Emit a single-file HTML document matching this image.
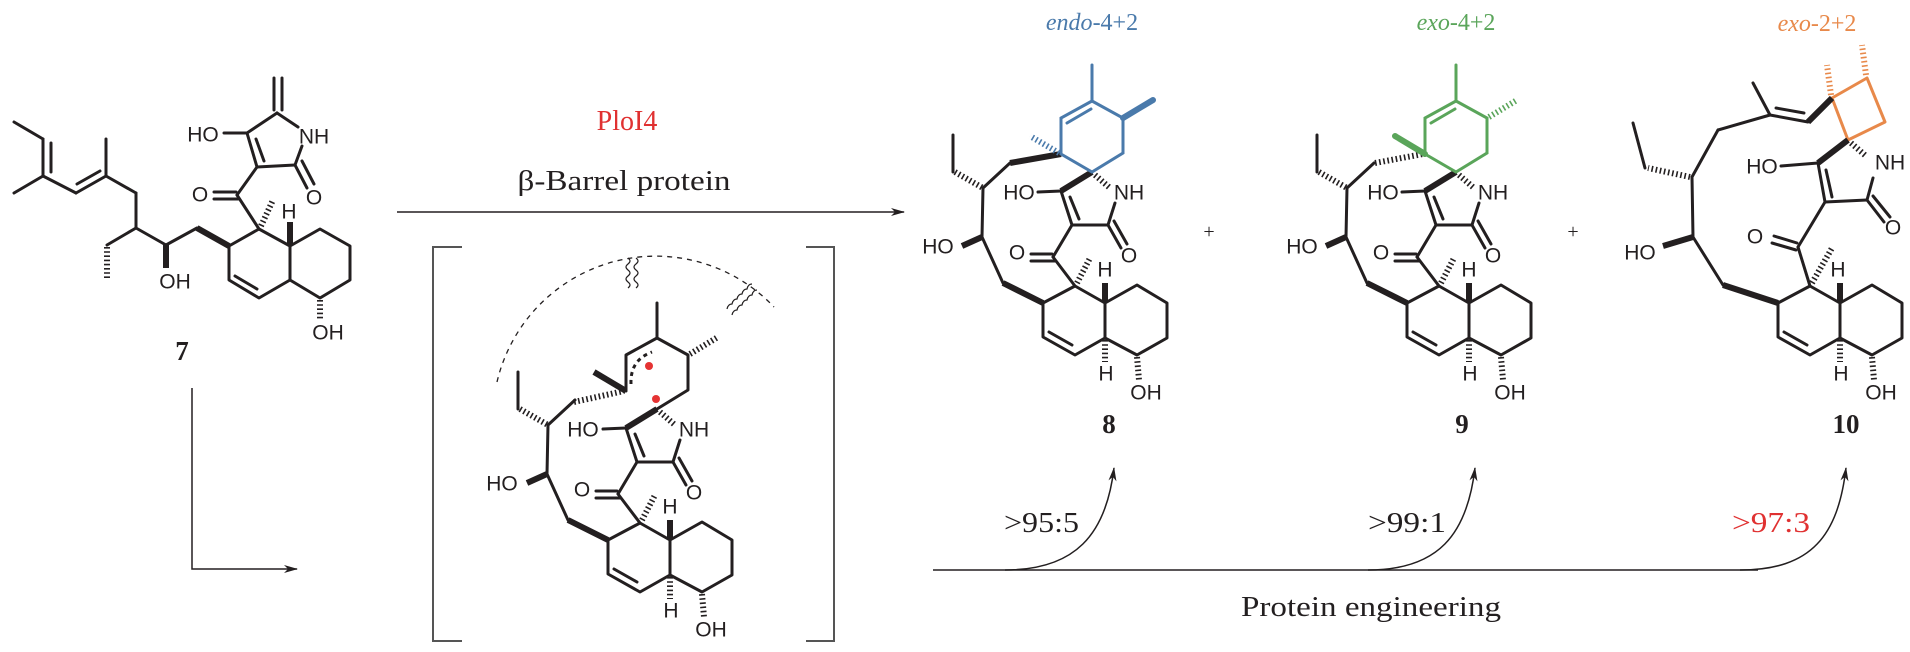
<!DOCTYPE html>
<html><head><meta charset="utf-8"><style>
html,body{margin:0;padding:0;background:#fff;}
svg{display:block;}
.b{stroke:#231f20;stroke-width:3;fill:none;stroke-linecap:round;stroke-linejoin:round;}
.w{stroke:#231f20;stroke-width:6;fill:none;}
.h{stroke:#231f20;stroke-width:6;fill:none;stroke-dasharray:1.6 2.6;}
.t{font-family:"Liberation Sans",sans-serif;font-size:21px;fill:#231f20;dominant-baseline:central;text-anchor:middle;}
.s{font-family:"Liberation Serif",serif;fill:#231f20;}
.ar{stroke:#231f20;stroke-width:1.5;fill:none;}
</style></head><body>
<svg width="1910" height="652" viewBox="0 0 1910 652" xmlns="http://www.w3.org/2000/svg">
<defs>
<marker id="ah" markerWidth="14" markerHeight="10" refX="13" refY="5" orient="auto" markerUnits="userSpaceOnUse"><path d="M0,1 L14,5 L0,9 L4,5 Z" fill="#231f20"/></marker>
<g id="base">
<line class="b" x1="953" y1="135" x2="953" y2="172"/>
<line class="h" x1="955" y1="172" x2="983" y2="188"/>
<line class="b" x1="983" y1="188" x2="1010" y2="163"/>
<line class="b" x1="983" y1="188" x2="982" y2="237"/>
<line class="w" x1="982" y1="237" x2="962" y2="246"/>
<line class="b" x1="982" y1="237" x2="1003" y2="283"/>
<line class="w" x1="1003" y1="283" x2="1043" y2="303"/>
<polyline class="b" points="1043,303 1075,286 1105,303 1105,338 1075,355 1043,337 1043,303"/>
<line class="b" x1="1049" y1="332" x2="1072" y2="345"/>
<polyline class="b" points="1105,303 1137,285 1167,303 1167,338 1137,355 1105,338"/>
<line class="w" x1="1105" y1="303" x2="1105" y2="283"/>
<line class="h" x1="1105" y1="340" x2="1105" y2="362"/>
<line class="h" x1="1137" y1="357" x2="1139" y2="380"/>
<line class="h" x1="1077" y1="283" x2="1090" y2="258"/>
<line class="b" x1="1075" y1="286" x2="1053" y2="257"/>
<line class="b" x1="1031" y1="254" x2="1052" y2="254"/>
<line class="b" x1="1031" y1="261" x2="1055" y2="261"/>
<line class="b" x1="1053" y1="257" x2="1072" y2="225"/>
<line class="b" x1="1072" y1="225" x2="1061" y2="191"/>
<line class="b" x1="1079" y1="219" x2="1070" y2="197"/>
<line class="b" x1="1072" y1="225" x2="1108" y2="225"/>
<line class="b" x1="1108" y1="225" x2="1115" y2="203"/>
<line class="b" x1="1108" y1="225" x2="1121" y2="248"/>
<line class="b" x1="1114" y1="221" x2="1127" y2="244"/>
<line class="b" x1="1038" y1="192" x2="1061" y2="191"/>
<line class="w" x1="1092" y1="172" x2="1061" y2="191"/>
<line class="h" x1="1095" y1="175" x2="1110" y2="188"/>
</g>
</defs>

<!-- Compound 7 -->
<g>
<line class="b" x1="14" y1="122" x2="43" y2="139"/>
<line class="b" x1="43" y1="139" x2="43" y2="176"/>
<line class="b" x1="51" y1="143" x2="51" y2="172"/>
<line class="b" x1="14" y1="193" x2="43" y2="176"/>
<line class="b" x1="43" y1="176" x2="76" y2="193"/>
<line class="b" x1="76" y1="193" x2="106" y2="176"/>
<line class="b" x1="77" y1="184" x2="100" y2="171"/>
<line class="b" x1="106" y1="176" x2="106" y2="139"/>
<line class="b" x1="106" y1="176" x2="136" y2="193"/>
<line class="b" x1="136" y1="193" x2="136" y2="228"/>
<line class="b" x1="136" y1="228" x2="107" y2="245"/>
<line class="h" x1="107" y1="247" x2="107" y2="280"/>
<line class="b" x1="136" y1="228" x2="166" y2="245"/>
<line class="w" x1="166" y1="245" x2="166" y2="268"/>
<line class="b" x1="166" y1="245" x2="197" y2="228"/>
<line class="w" x1="197" y1="228" x2="229" y2="246"/>
<polyline class="b" points="229,246 259,229 290,246 290,280 259,298 229,280 229,246"/>
<line class="b" x1="235" y1="276" x2="257" y2="289"/>
<polyline class="b" points="290,246 320,229 350,246 350,280 320,298 290,280"/>
<line class="w" x1="290" y1="246" x2="290" y2="222"/>
<line class="h" x1="261" y1="226" x2="273" y2="200"/>
<line class="h" x1="320" y1="300" x2="320" y2="321"/>
<line class="b" x1="259" y1="229" x2="237" y2="195"/>
<line class="b" x1="214" y1="192" x2="236" y2="192"/>
<line class="b" x1="214" y1="199" x2="238" y2="199"/>
<line class="b" x1="237" y1="195" x2="257" y2="167"/>
<line class="b" x1="257" y1="167" x2="247" y2="133"/>
<line class="b" x1="264" y1="161" x2="256" y2="139"/>
<line class="b" x1="224" y1="133" x2="247" y2="133"/>
<line class="b" x1="247" y1="133" x2="277" y2="113"/>
<line class="b" x1="277" y1="113" x2="298" y2="127"/>
<line class="b" x1="274" y1="110" x2="274" y2="78"/>
<line class="b" x1="282" y1="110" x2="282" y2="78"/>
<line class="b" x1="257" y1="167" x2="295" y2="165"/>
<line class="b" x1="295" y1="165" x2="302" y2="146"/>
<line class="b" x1="295" y1="165" x2="307" y2="188"/>
<line class="b" x1="302" y1="161" x2="314" y2="184"/>
<text class="t" x="203" y="135">HO</text>
<text class="t" x="314" y="137">NH</text>
<text class="t" x="200" y="195">O</text>
<text class="t" x="314" y="198">O</text>
<text class="t" x="289" y="212">H</text>
<text class="t" x="175" y="282">OH</text>
<text class="t" x="328" y="333">OH</text>
<text class="s" x="182" y="360" font-size="27" font-weight="bold" text-anchor="middle">7</text>
</g>

<!-- main arrow -->
<line class="ar" x1="397" y1="212" x2="904" y2="212" marker-end="url(#ah)"/>
<text class="s" x="627" y="130" font-size="28" fill="#e03131" style="fill:#e03131" text-anchor="middle">PloI4</text>
<text class="s" x="624" y="190" font-size="28" text-anchor="middle" textLength="213" lengthAdjust="spacingAndGlyphs">β-Barrel protein</text>

<!-- L arrow -->
<polyline class="ar" points="192,388 192,569 297,569" marker-end="url(#ah)"/>

<!-- brackets -->
<polyline points="462,247 433,247 433,641 462,641" fill="none" stroke="#555" stroke-width="2"/>
<polyline points="806,247 834,247 834,641 806,641" fill="none" stroke="#555" stroke-width="2"/>

<!-- Product 8 -->
<use href="#base"/>
<line class="w" x1="1010" y1="163" x2="1061" y2="154"/>
<g stroke="#4a7aab" fill="none" stroke-width="3" stroke-linecap="round">
<polyline points="1092,101 1123,118 1123,153 1092,172 1061,154 1061,118 1092,101"/>
<line x1="1067" y1="123" x2="1091" y2="109"/>
<line x1="1092" y1="101" x2="1092" y2="65"/>
<line x1="1123" y1="118" x2="1153" y2="100" stroke-width="6"/>
<line x1="1059" y1="153" x2="1030" y2="136" stroke-width="6" stroke-dasharray="1.6 2.6" stroke-linecap="butt"/>
</g>
<text class="t" x="938" y="247">HO</text>
<text class="t" x="1019" y="193">HO</text>
<text class="t" x="1017" y="253">O</text>
<text class="t" x="1129" y="256">O</text>
<text class="t" x="1129" y="193">NH</text>
<text class="t" x="1105" y="270">H</text>
<text class="t" x="1106" y="374">H</text>
<text class="t" x="1146" y="393">OH</text>
<text class="s" x="1109" y="433" font-size="27" font-weight="bold" text-anchor="middle">8</text>
<text class="s" x="1092" y="30" font-size="24" fill="#4a7aab" style="fill:#4a7aab" text-anchor="middle"><tspan font-style="italic">endo</tspan>-4+2</text>
<text class="s" x="1209" y="238" font-size="20" text-anchor="middle">+</text>

<!-- Product 9 -->
<use href="#base" transform="translate(364,0)"/>
<line class="h" x1="1375" y1="163" x2="1423" y2="154"/>
<g stroke="#5aa55a" fill="none" stroke-width="3" stroke-linecap="round">
<polyline points="1456,101 1487,118 1487,153 1456,172 1425,154 1425,118 1456,101"/>
<line x1="1431" y1="123" x2="1455" y2="109"/>
<line x1="1456" y1="101" x2="1456" y2="65"/>
<line x1="1489" y1="117" x2="1517" y2="100" stroke-width="6" stroke-dasharray="1.6 2.6" stroke-linecap="butt"/>
<line x1="1425" y1="154" x2="1395" y2="136" stroke-width="6"/>
</g>
<text class="t" x="1302" y="247">HO</text>
<text class="t" x="1383" y="193">HO</text>
<text class="t" x="1381" y="253">O</text>
<text class="t" x="1493" y="256">O</text>
<text class="t" x="1493" y="193">NH</text>
<text class="t" x="1469" y="270">H</text>
<text class="t" x="1470" y="374">H</text>
<text class="t" x="1510" y="393">OH</text>
<text class="s" x="1462" y="433" font-size="27" font-weight="bold" text-anchor="middle">9</text>
<text class="s" x="1456" y="30" font-size="24" fill="#5aa55a" style="fill:#5aa55a" text-anchor="middle"><tspan font-style="italic">exo</tspan>-4+2</text>
<text class="s" x="1573" y="238" font-size="20" text-anchor="middle">+</text>

<!-- Product 10 -->
<g>
<g stroke="#e8894a" fill="none" stroke-width="3" stroke-linejoin="round">
<polygon points="1832,98 1867,78 1885,122 1848,140"/>
<line x1="1831" y1="95" x2="1827" y2="65" stroke-width="6" stroke-dasharray="1.6 2.6"/>
<line x1="1866" y1="75" x2="1862" y2="45" stroke-width="6" stroke-dasharray="1.6 2.6"/>
</g>
<line class="w" x1="1808" y1="122" x2="1832" y2="98"/>
<line class="b" x1="1808" y1="122" x2="1770" y2="115"/>
<line class="b" x1="1804" y1="113" x2="1776" y2="108"/>
<line class="b" x1="1770" y1="115" x2="1753" y2="83"/>
<line class="b" x1="1770" y1="115" x2="1718" y2="130"/>
<line class="b" x1="1718" y1="130" x2="1692" y2="177"/>
<line class="h" x1="1690" y1="177" x2="1648" y2="168"/>
<line class="b" x1="1645" y1="168" x2="1633" y2="123"/>
<line class="b" x1="1692" y1="177" x2="1693" y2="237"/>
<line class="w" x1="1693" y1="237" x2="1663" y2="246"/>
<line class="b" x1="1693" y1="237" x2="1723" y2="285"/>
<line class="w" x1="1723" y1="285" x2="1778" y2="303"/>
<polyline class="b" points="1778,303 1810,286 1840,303 1840,338 1810,355 1778,337 1778,303"/>
<line class="b" x1="1784" y1="332" x2="1807" y2="345"/>
<polyline class="b" points="1840,303 1872,285 1902,303 1902,338 1872,355 1840,338"/>
<line class="w" x1="1840" y1="303" x2="1840" y2="283"/>
<line class="h" x1="1840" y1="340" x2="1840" y2="362"/>
<line class="h" x1="1872" y1="357" x2="1874" y2="380"/>
<line class="h" x1="1812" y1="283" x2="1832" y2="248"/>
<line class="b" x1="1810" y1="286" x2="1798" y2="247"/>
<line class="b" x1="1774" y1="236" x2="1797" y2="243"/>
<line class="b" x1="1772" y1="243" x2="1796" y2="250"/>
<line class="b" x1="1798" y1="247" x2="1825" y2="202"/>
<line class="b" x1="1825" y1="202" x2="1818" y2="163"/>
<line class="b" x1="1832" y1="197" x2="1826" y2="170"/>
<line class="b" x1="1825" y1="202" x2="1867" y2="200"/>
<line class="b" x1="1867" y1="200" x2="1873" y2="178"/>
<line class="b" x1="1867" y1="200" x2="1884" y2="222"/>
<line class="b" x1="1873" y1="196" x2="1890" y2="217"/>
<line class="w" x1="1848" y1="140" x2="1818" y2="163"/>
<line class="h" x1="1851" y1="143" x2="1866" y2="156"/>
<line class="b" x1="1781" y1="166" x2="1818" y2="163"/>
<text class="t" x="1762" y="167">HO</text>
<text class="t" x="1890" y="163">NH</text>
<text class="t" x="1893" y="228">O</text>
<text class="t" x="1755" y="237">O</text>
<text class="t" x="1640" y="253">HO</text>
<text class="t" x="1838" y="270">H</text>
<text class="t" x="1841" y="374">H</text>
<text class="t" x="1881" y="393">OH</text>
<text class="s" x="1846" y="433" font-size="27" font-weight="bold" text-anchor="middle">10</text>
<text class="s" x="1817" y="31" font-size="24" fill="#e8894a" style="fill:#e8894a" text-anchor="middle"><tspan font-style="italic">exo</tspan>-2+2</text>
</g>

<!-- Transition state -->
<use href="#base" transform="translate(-435,237)"/>
<g>
<polyline class="b" points="626,391 626,355 657,338 688,355 688,390 657,409"/>
<line class="b" x1="657" y1="338" x2="657" y2="303"/>
<line class="h" x1="690" y1="354" x2="718" y2="337"/>
<line class="w" x1="626" y1="391" x2="594" y2="372"/>
<line class="h" x1="574" y1="402" x2="624" y2="391"/>
<path d="M631,384 Q630,360 652,352" fill="none" stroke="#231f20" stroke-width="3" stroke-dasharray="4 4"/>
<circle cx="649" cy="366" r="4" fill="#e53333"/>
<circle cx="656" cy="399" r="4" fill="#e53333"/>
<path d="M497,382 A163,163 0 0 1 774,307" fill="none" stroke="#231f20" stroke-width="1.3" stroke-dasharray="5 5"/>
<path d="M628,258 q4,3 0,6 q-4,3 0,6 q4,3 0,6 q-4,3 0,6 q4,3 0,6" fill="none" stroke="#231f20" stroke-width="1.2"/>
<path d="M636,258 q4,3 0,6 q-4,3 0,6 q4,3 0,6 q-4,3 0,6 q4,3 0,6" fill="none" stroke="#231f20" stroke-width="1.2"/>
<path d="M727,309 q1,-5 5,-5 q1,-5 5,-5 q1,-5 5,-5 q1,-5 5,-5 q1,-5 5,-5" fill="none" stroke="#231f20" stroke-width="1.2"/>
<path d="M732,315 q1,-5 5,-5 q1,-5 5,-5 q1,-5 5,-5 q1,-5 5,-5 q1,-5 5,-5" fill="none" stroke="#231f20" stroke-width="1.2"/>
<text class="t" x="502" y="484">HO</text>
<text class="t" x="583" y="430">HO</text>
<text class="t" x="582" y="490">O</text>
<text class="t" x="694" y="493">O</text>
<text class="t" x="694" y="430">NH</text>
<text class="t" x="670" y="507">H</text>
<text class="t" x="671" y="611">H</text>
<text class="t" x="711" y="630">OH</text>
</g>

<!-- bottom engineering arrows -->
<line class="ar" x1="933" y1="570" x2="1758" y2="570"/>
<path class="ar" d="M1005,570 C1075,570 1106,535 1114,468" marker-end="url(#ah)"/>
<path class="ar" d="M1368,570 C1438,570 1467,535 1475,468" marker-end="url(#ah)"/>
<path class="ar" d="M1740,570 C1812,570 1838,535 1846,468" marker-end="url(#ah)"/>
<text class="s" x="1004" y="532" font-size="28" textLength="75" lengthAdjust="spacingAndGlyphs">&gt;95:5</text>
<text class="s" x="1368" y="532" font-size="28" textLength="78" lengthAdjust="spacingAndGlyphs">&gt;99:1</text>
<text class="s" x="1732" y="532" font-size="28" fill="#e03131" style="fill:#e03131" textLength="78" lengthAdjust="spacingAndGlyphs">&gt;97:3</text>
<text class="s" x="1241" y="616" font-size="28" textLength="260" lengthAdjust="spacingAndGlyphs">Protein engineering</text>
</svg>
</body></html>
